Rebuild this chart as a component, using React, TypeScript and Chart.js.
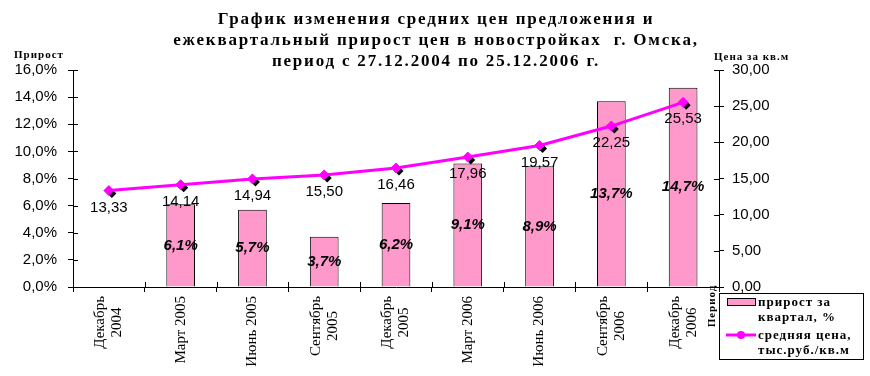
import React, { useEffect, useRef } from 'react';
import { Chart, registerables } from 'chart.js';

Chart.register(...registerables);

// ---------- data ----------
const categories: string[][] = [
  ['Декабрь', '2004'],
  ['Март 2005'],
  ['Июнь 2005'],
  ['Сентябрь', '2005'],
  ['Декабрь', '2005'],
  ['Март 2006'],
  ['Июнь 2006'],
  ['Сентябрь', '2006'],
  ['Декабрь', '2006'],
];
const growthPct: (number | null)[] = [null, 6.1, 5.7, 3.7, 6.2, 9.1, 8.9, 13.7, 14.7];
const avgPrice: number[] = [13.33, 14.14, 14.94, 15.5, 16.46, 17.96, 19.57, 22.25, 25.53];

const leftAxisMax = 16;
const leftAxisStep = 2;
const rightAxisMax = 30;
const rightAxisStep = 5;

const titleLines = [
  'График изменения средних цен предложения и',
  'ежеквартальный прирост цен в новостройках  г. Омска,',
  'период с 27.12.2004 по 25.12.2006 г.',
];
const leftAxisTitle = 'Прирост';
const rightAxisTitle = 'Цена за кв.м';
const xAxisTitle = 'Период';
const legendGrowth = ['прирост за', 'квартал, %'];
const legendPrice = ['средняя цена,', 'тыс.руб./кв.м'];

// ---------- styles ----------
const SERIF = '"Liberation Serif", "Times New Roman", serif';
const SANS = '"Liberation Sans", Arial, sans-serif';
const PINK = '#FF99CC';
const MAGENTA = '#FF00FF';

const fmtPct = (v: number) => v.toFixed(1).replace('.', ',') + '%';
const fmtPrice = (v: number) => v.toFixed(2).replace('.', ',');

function diamond(ctx: CanvasRenderingContext2D, x: number, y: number, r: number) {
  ctx.beginPath();
  ctx.moveTo(x, y - r);
  ctx.lineTo(x + r, y);
  ctx.lineTo(x, y + r);
  ctx.lineTo(x - r, y);
  ctx.closePath();
  ctx.fill();
}

const decorPlugin = {
  id: 'decor',
  beforeDatasetDraw(chart: any, args: any) {
    if (args.index !== 1) return;
    const ctx = chart.ctx as CanvasRenderingContext2D;
    const meta = chart.getDatasetMeta(1);
    ctx.save();
    ctx.fillStyle = '#000';
    meta.data.forEach((p: any) => diamond(ctx, p.x + 3, p.y + 3, 4.5));
    ctx.restore();
  },
  afterDatasetsDraw(chart: any) {
    const ctx = chart.ctx as CanvasRenderingContext2D;
    ctx.save();
    ctx.fillStyle = '#000';
    ctx.textAlign = 'center';
    ctx.textBaseline = 'middle';
    // bar labels
    ctx.font = `italic bold 15px ${SANS}`;
    const barMeta = chart.getDatasetMeta(0);
    barMeta.data.forEach((el: any, i: number) => {
      const v = growthPct[i];
      if (v == null) return;
      ctx.fillText(fmtPct(v), el.x, (el.y + el.base) / 2);
    });
    // price labels
    ctx.font = `15px ${SANS}`;
    const lineMeta = chart.getDatasetMeta(1);
    lineMeta.data.forEach((p: any, i: number) => {
      ctx.fillText(fmtPrice(avgPrice[i]), p.x, p.y + 17);
    });
    ctx.restore();
  },
  afterDraw(chart: any) {
    const ctx = chart.ctx as CanvasRenderingContext2D;
    const area = chart.chartArea;
    const xs = chart.scales.x;
    const yl = chart.scales.y;
    const yr = chart.scales.y1;
    ctx.save();
    // inner halves of cross ticks
    ctx.strokeStyle = '#000';
    ctx.lineWidth = 1;
    ctx.beginPath();
    yl.ticks.forEach((t: any) => {
      const py = Math.round(yl.getPixelForValue(t.value)) + 0.5;
      ctx.moveTo(area.left, py);
      ctx.lineTo(area.left + 5, py);
    });
    yr.ticks.forEach((t: any) => {
      const py = Math.round(yr.getPixelForValue(t.value)) + 0.5;
      ctx.moveTo(area.right - 5, py);
      ctx.lineTo(area.right, py);
    });
    for (let i = 0; i <= categories.length; i++) {
      const a = xs.getPixelForValue(i - 1);
      const b = xs.getPixelForValue(i);
      let px: number;
      if (i === 0) px = area.left;
      else if (i === categories.length) px = area.right;
      else px = (a + b) / 2;
      px = Math.round(px) + 0.5;
      ctx.moveTo(px, area.bottom);
      ctx.lineTo(px, area.bottom - 5);
    }
    ctx.stroke();

    // x category labels (rotated, multi-line centred block)
    ctx.fillStyle = '#000';
    ctx.font = `15px ${SERIF}`;
    ctx.textAlign = 'center';
    ctx.textBaseline = 'middle';
    const labelTop = area.bottom + 9;
    const lineGap = 17;
    categories.forEach((lines, i) => {
      const cx = xs.getPixelForValue(i);
      const w = Math.max(...lines.map((l) => ctx.measureText(l).width));
      ctx.save();
      ctx.translate(cx, labelTop);
      ctx.rotate(-Math.PI / 2);
      const n = lines.length;
      lines.forEach((l, j) => {
        const off = (j - (n - 1) / 2) * lineGap;
        ctx.fillText(l, -w / 2, off);
      });
      ctx.restore();
    });

    // title
    ctx.textAlign = 'center';
    ctx.textBaseline = 'middle';
    ctx.font = `bold 17px ${SERIF}`;
    (ctx as any).letterSpacing = '1.8px';
    const titleY = [20, 41, 62];
    titleLines.forEach((l, i) => ctx.fillText(l, 436, titleY[i]));

    // axis titles
    ctx.font = `bold 11px ${SERIF}`;
    (ctx as any).letterSpacing = '1px';
    ctx.textAlign = 'left';
    ctx.fillText(leftAxisTitle, 14, 55);
    ctx.fillText(rightAxisTitle, 714, 57);
    ctx.save();
    ctx.translate(712, 306);
    ctx.rotate(-Math.PI / 2);
    ctx.textAlign = 'center';
    ctx.fillText(xAxisTitle, 0, 0);
    ctx.restore();

    // legend
    const bx = 719.5, by = 293.5, bw = 144, bh = 66;
    ctx.fillStyle = '#fff';
    ctx.fillRect(bx, by, bw, bh);
    ctx.strokeStyle = '#000';
    ctx.lineWidth = 1;
    ctx.strokeRect(bx, by, bw, bh);
    ctx.fillStyle = PINK;
    ctx.fillRect(727.5, 298.5, 28, 7);
    ctx.strokeRect(727.5, 298.5, 28, 7);
    ctx.strokeStyle = MAGENTA;
    ctx.lineWidth = 3;
    ctx.beginPath();
    ctx.moveTo(726, 335);
    ctx.lineTo(756, 335);
    ctx.stroke();
    ctx.fillStyle = MAGENTA;
    ctx.beginPath();
    ctx.arc(741, 335, 4, 0, Math.PI * 2);
    ctx.fill();
    ctx.fillStyle = '#000';
    ctx.font = `bold 13px ${SERIF}`;
    (ctx as any).letterSpacing = '1px';
    ctx.textAlign = 'left';
    ctx.textBaseline = 'middle';
    ctx.fillText(legendGrowth[0], 758, 303);
    ctx.fillText(legendGrowth[1], 758, 318);
    ctx.fillText(legendPrice[0], 758, 336);
    ctx.fillText(legendPrice[1], 758, 351);
    (ctx as any).letterSpacing = '0px';
    ctx.restore();
  },
};

export default function App() {
  const ref = useRef<HTMLCanvasElement | null>(null);
  useEffect(() => {
    document.body.style.margin = '0';
    const canvas = ref.current!;
    Chart.defaults.color = '#000';
    const chart = new Chart(canvas, {
      type: 'bar',
      data: {
        labels: categories,
        datasets: [
          {
            type: 'bar',
            label: legendGrowth.join(' '),
            data: growthPct,
            backgroundColor: PINK,
            borderColor: '#000',
            borderWidth: 1,
            barPercentage: 0.4,
            categoryPercentage: 1,
            yAxisID: 'y',
            order: 2,
          } as any,
          {
            type: 'line',
            label: legendPrice.join(' '),
            data: avgPrice,
            borderColor: MAGENTA,
            backgroundColor: MAGENTA,
            borderWidth: 3,
            pointStyle: 'rectRot',
            pointRadius: 5,
            pointBorderWidth: 1,
            pointBackgroundColor: MAGENTA,
            pointBorderColor: MAGENTA,
            tension: 0,
            yAxisID: 'y1',
            order: 1,
          } as any,
        ],
      },
      options: {
        animation: false,
        responsive: true,
        maintainAspectRatio: false,
        layout: { padding: { top: 70, left: 0, right: 0, bottom: 0 } },
        plugins: {
          legend: { display: false },
          tooltip: { enabled: false },
          title: { display: false },
        },
        scales: {
          x: {
            type: 'category',
            offset: true,
            grid: { display: true, offset: true, drawOnChartArea: false, color: '#000', tickLength: 5 },
            border: { display: true, color: '#000' },
            ticks: {
              autoSkip: false,
              minRotation: 90,
              maxRotation: 90,
              padding: 4,
              font: { family: SERIF, size: 14 },
              color: 'rgba(0,0,0,0)',
            },
            afterFit: (s: any) => { s.height = 89; },
          },
          y: {
            position: 'left',
            min: 0,
            max: leftAxisMax,
            grid: { drawOnChartArea: false, color: '#000', tickLength: 5 },
            border: { display: true, color: '#000' },
            ticks: {
              stepSize: leftAxisStep,
              padding: 11,
              font: { family: SANS, size: 15 },
              color: '#000',
              callback: (v: any) => fmtPct(Number(v)),
            },
            afterFit: (s: any) => { s.width = 73; },
          },
          y1: {
            position: 'right',
            min: 0,
            max: rightAxisMax,
            grid: { drawOnChartArea: false, color: '#000', tickLength: 5 },
            border: { display: true, color: '#000' },
            ticks: {
              stepSize: rightAxisStep,
              padding: 8,
              font: { family: SANS, size: 15 },
              color: '#000',
              callback: (v: any) => fmtPrice(Number(v)),
            },
            afterFit: (s: any) => { s.width = 151; },
          },
        },
      },
      plugins: [decorPlugin],
    });
    return () => chart.destroy();
  }, []);
  return (
    <div style={{ position: 'fixed', left: 0, top: 0, width: 870, height: 376, background: '#fff' }}>
      <canvas ref={ref} />
    </div>
  );
}
